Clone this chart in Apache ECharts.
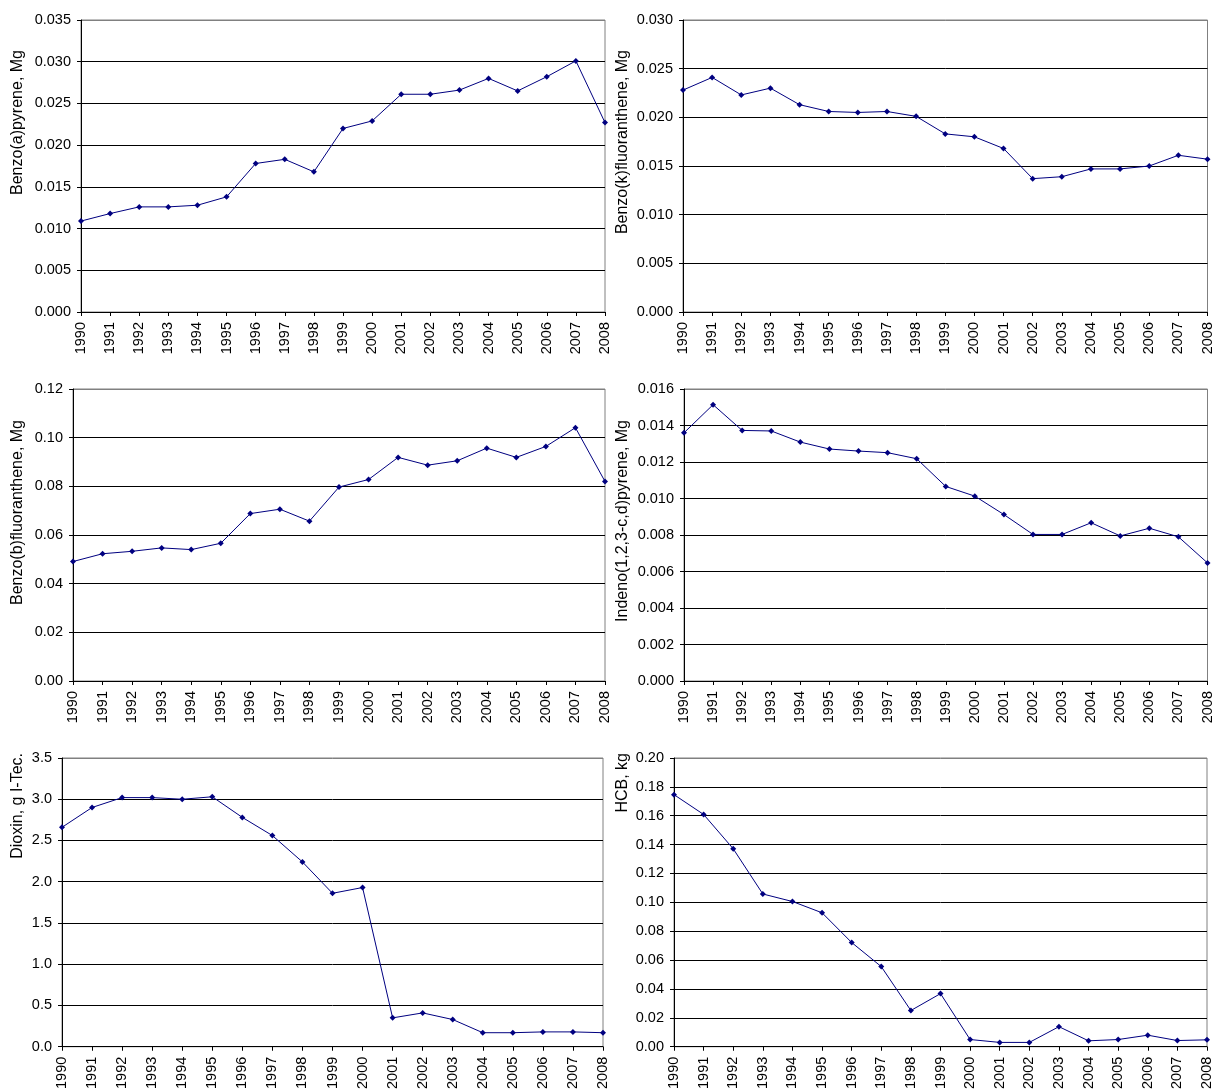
<!DOCTYPE html>
<html>
<head>
<meta charset="utf-8">
<script src="https://cdn.jsdelivr.net/npm/echarts@6/dist/echarts.min.js"></script>
<style>
  html, body { margin: 0; padding: 0; background: #fff; }
  #chart { width: 1215px; height: 1092px; }
</style>
</head>
<body>
<div id="chart"></div>
<script>
// Emission time series, 1990–2008
const years = ['1990','1991','1992','1993','1994','1995','1996','1997','1998','1999',
               '2000','2001','2002','2003','2004','2005','2006','2007','2008'];

const benzoAPyrene = [0.0109, 0.0118, 0.0126, 0.0126, 0.0128, 0.0138, 0.0178, 0.0183, 0.0168, 0.0220,
                      0.0229, 0.0261, 0.0261, 0.0266, 0.0280, 0.0265, 0.0282, 0.0301, 0.0227];
const benzoKFluoranthene = [0.0228, 0.0241, 0.0223, 0.0230, 0.0213, 0.0206, 0.0205, 0.0206, 0.0201, 0.0183,
                            0.0180, 0.0168, 0.0137, 0.0139, 0.0147, 0.0147, 0.0150, 0.0161, 0.0157];
const benzoBFluoranthene = [0.0491, 0.0523, 0.0533, 0.0547, 0.0540, 0.0566, 0.0688, 0.0706, 0.0657, 0.0797,
                            0.0828, 0.0919, 0.0887, 0.0905, 0.0957, 0.0919, 0.0964, 0.1041, 0.0820];
const indenoPyrene = [0.01360, 0.01514, 0.01373, 0.01370, 0.01309, 0.01271, 0.01260, 0.01251, 0.01218, 0.01066,
                      0.01013, 0.00912, 0.00803, 0.00803, 0.00867, 0.00795, 0.00837, 0.00790, 0.00647];
const dioxin = [2.66, 2.90, 3.02, 3.02, 3.00, 3.03, 2.78, 2.56, 2.24, 1.86,
                1.93, 0.35, 0.41, 0.33, 0.17, 0.17, 0.18, 0.18, 0.17];
const hcb = [0.1746, 0.1609, 0.1371, 0.1058, 0.1006, 0.0928, 0.0722, 0.0555, 0.0251, 0.0368,
             0.0050, 0.0030, 0.0030, 0.0139, 0.0041, 0.0050, 0.0080, 0.0043, 0.0048];

// Axis titles and value-axis scales (max, step, label decimals)
const titles = ['Benzo(a)pyrene, Mg', 'Benzo(k)fluoranthene, Mg', 'Benzo(b)fluoranthene, Mg',
                'Indeno(1,2,3-c,d)pyrene, Mg', 'Dioxin, g I-Tec.', 'HCB, kg'];
const seriesData = [benzoAPyrene, benzoKFluoranthene, benzoBFluoranthene, indenoPyrene, dioxin, hcb];
const axisMax = [0.035, 0.030, 0.12, 0.016, 3.5, 0.20];
const axisStep = [0.005, 0.005, 0.02, 0.002, 0.5, 0.02];
const axisDecimals = [3, 3, 2, 3, 1, 2];

// Plot rectangles for the 3x2 panel layout
const plotRects = [
  { left: 81,  top: 20,  width: 524, height: 292 },
  { left: 683, top: 20,  width: 525, height: 292 },
  { left: 73,  top: 389, width: 532, height: 292 },
  { left: 684, top: 389, width: 525, height: 292 },
  { left: 62,  top: 758, width: 541, height: 291 },
  { left: 674, top: 758, width: 533, height: 291 }
];
const titleAnchors = [
  [17.5, 50], [622.5, 50], [17.5, 420], [622.5, 420], [17.5, 753], [622.5, 753]
];

const FONT = '"Liberation Sans", Arial, sans-serif';
const NAVY = '#000080';

const grids = [], xAxes = [], yAxes = [], series = [], graphics = [];

seriesData.forEach((data, i) => {
  const nLines = Math.round(axisMax[i] / axisStep[i]) + 1;
  const lineColors = [];
  for (let k = 0; k < nLines; k++) lineColors.push(k === nLines - 1 ? '#808080' : '#000000');

  grids.push(Object.assign({
    show: true, borderColor: '#808080', borderWidth: 1, backgroundColor: 'transparent'
  }, plotRects[i]));

  xAxes.push({
    type: 'category', gridIndex: i, data: years, boundaryGap: false,
    axisLine: { lineStyle: { color: '#000', width: 1 } },
    axisTick: { show: true, length: 4, interval: 0, lineStyle: { color: '#000' } },
    axisLabel: { interval: 0, rotate: 90, margin: 10, color: '#000', fontSize: 14.5, fontFamily: FONT },
    splitLine: { show: false }
  });

  const dec = axisDecimals[i];
  yAxes.push({
    type: 'value', gridIndex: i, min: 0, max: axisMax[i], interval: axisStep[i],
    axisLine: { show: true, lineStyle: { color: '#000', width: 1 } },
    axisTick: { show: true, length: 4, lineStyle: { color: '#000' } },
    axisLabel: { margin: 10, color: '#000', fontSize: 14.5, fontFamily: FONT,
                 formatter: v => v.toFixed(dec) },
    splitLine: { show: true, lineStyle: { color: lineColors, width: 1 } }
  });

  series.push({
    type: 'line', xAxisIndex: i, yAxisIndex: i, data: data,
    symbol: 'diamond', symbolSize: 6, showSymbol: true,
    lineStyle: { color: NAVY, width: 1 },
    itemStyle: { color: NAVY },
    animation: false
  });

  graphics.push({
    type: 'text', x: titleAnchors[i][0], y: titleAnchors[i][1], rotation: Math.PI / 2,
    style: { text: titles[i], fill: '#000', font: '16px ' + FONT,
             align: 'right', verticalAlign: 'middle' }
  });
});

const chart = echarts.init(document.getElementById('chart'), null, { renderer: 'canvas' });
chart.setOption({
  animation: false,
  backgroundColor: '#fff',
  grid: grids,
  xAxis: xAxes,
  yAxis: yAxes,
  series: series,
  graphic: graphics
});
</script>
</body>
</html>
